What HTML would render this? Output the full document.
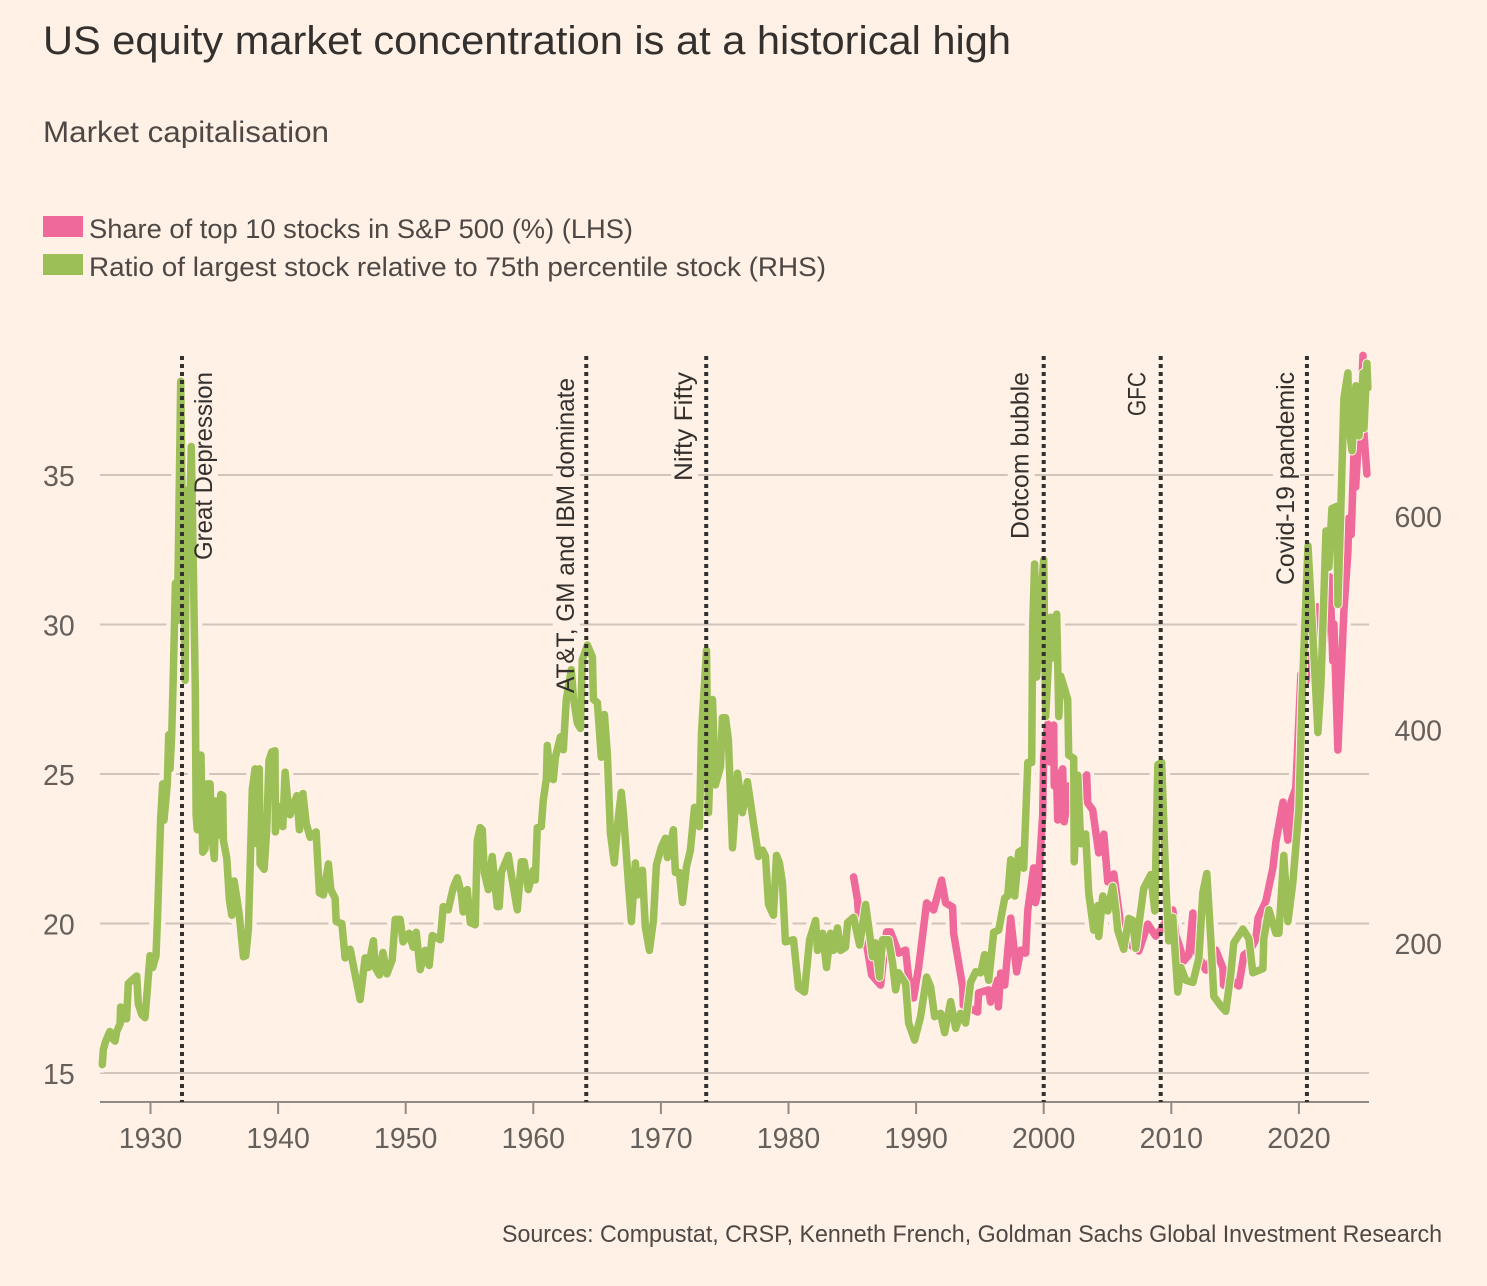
<!DOCTYPE html>
<html lang="en">
<head>
<meta charset="utf-8">
<title>US equity market concentration is at a historical high</title>
<style>
html,body{margin:0;padding:0;background:#fff1e5;}
body{width:1487px;height:1286px;overflow:hidden;}
svg{display:block;font-family:"Liberation Sans",sans-serif;}
</style>
</head>
<body>
<svg id="chart" xmlns="http://www.w3.org/2000/svg" width="1487" height="1286" viewBox="0 0 1487 1286">
  <rect x="0" y="0" width="1487" height="1286" fill="#fff1e5"/>
  <text x="43" y="54" font-size="40" fill="#33302e" textLength="968" lengthAdjust="spacingAndGlyphs">US equity market concentration is at a historical high</text>
  <text x="43" y="142" font-size="30" fill="#4d4845" textLength="286" lengthAdjust="spacingAndGlyphs">Market capitalisation</text>
  <rect x="43" y="216" width="40" height="21" fill="#ef6a9a"/>
  <text x="89" y="238" font-size="27" fill="#4d4845" textLength="544" lengthAdjust="spacingAndGlyphs">Share of top 10 stocks in S&amp;P 500 (%) (LHS)</text>
  <rect x="43" y="254" width="40" height="21" fill="#9dbf57"/>
  <text x="89" y="276" font-size="27" fill="#4d4845" textLength="737" lengthAdjust="spacingAndGlyphs">Ratio of largest stock relative to 75th percentile stock (RHS)</text>
  <g id="grid"></g>
  <g id="axes"></g>
  <g id="halo"></g>
  <g id="labelback"></g>
  <g id="series"></g>
  <g id="events"></g>
  <text x="502" y="1242" font-size="24" fill="#4d4845" textLength="940" lengthAdjust="spacingAndGlyphs">Sources: Compustat, CRSP, Kenneth French, Goldman Sachs Global Investment Research</text>
</svg>
<script>
const xTickYears = [1930,1940,1950,1960,1970,1980,1990,2000,2010,2020];
const leftTicks = [15,20,25,30,35];
const rightTicks = [200,400,600];
const eventYears = [1932.47,1964.15,1973.55,2000.0,2009.17,2020.63];
const eventLabels = ["Great Depression","AT&T, GM and IBM dominate","Nifty Fifty","Dotcom bubble","GFC","Covid-19 pandemic"];

const ratioYears = [1926.22,1926.30,1926.49,1926.82,1926.96,1927.22,1927.35,1927.61,1927.66,1927.87,1928.13,1928.26,1928.53,1928.92,1929.04,1929.31,1929.57,1929.75,1929.96,1930.17,1930.43,1930.56,1930.80,1930.96,1931.06,1931.32,1931.43,1931.53,1931.66,1931.79,1931.95,1932.10,1932.18,1932.37,1932.47,1932.71,1932.84,1933.02,1933.20,1933.36,1933.51,1933.57,1933.67,1933.75,1933.96,1934.09,1934.27,1934.45,1934.67,1934.80,1935.00,1935.11,1935.32,1935.51,1935.66,1935.71,1935.98,1936.18,1936.37,1936.55,1936.76,1936.96,1937.28,1937.47,1937.67,1937.86,1937.98,1938.20,1938.33,1938.53,1938.59,1938.90,1939.11,1939.29,1939.51,1939.76,1939.79,1940.02,1940.37,1940.55,1940.73,1940.94,1941.47,1941.67,1941.94,1942.20,1942.51,1942.98,1943.24,1943.55,1943.94,1944.13,1944.47,1944.55,1945.00,1945.25,1945.65,1946.04,1946.43,1946.82,1947.08,1947.47,1947.61,1947.94,1948.21,1948.53,1948.94,1949.18,1949.57,1949.80,1950.27,1950.59,1950.82,1951.14,1951.53,1951.84,1952.08,1952.71,1952.94,1953.33,1953.73,1954.04,1954.35,1954.51,1954.82,1955.06,1955.45,1955.61,1955.84,1956.00,1956.16,1956.47,1956.78,1957.18,1957.33,1957.49,1958.04,1958.35,1958.75,1959.06,1959.29,1959.61,1960.00,1960.16,1960.31,1960.63,1960.78,1961.02,1961.10,1961.33,1961.57,1961.73,1962.12,1962.35,1962.59,1962.98,1963.14,1963.45,1963.69,1963.84,1964.24,1964.63,1964.71,1965.02,1965.33,1965.57,1965.80,1966.04,1966.35,1966.67,1966.90,1967.06,1967.45,1967.69,1968.00,1968.16,1968.55,1968.78,1969.10,1969.41,1969.65,1970.04,1970.35,1970.51,1970.98,1971.14,1971.45,1971.69,1972.00,1972.31,1972.63,1973.02,1973.18,1973.57,1973.73,1974.04,1974.27,1974.67,1974.82,1975.06,1975.29,1975.61,1976.00,1976.39,1976.78,1977.25,1977.65,1977.96,1978.20,1978.43,1978.82,1979.06,1979.29,1979.53,1979.76,1980.39,1980.78,1981.25,1981.65,1982.12,1982.27,1982.67,1982.98,1983.29,1983.53,1983.84,1984.08,1984.47,1984.63,1985.10,1985.57,1986.04,1986.35,1986.59,1986.82,1987.14,1987.37,1987.84,1988.16,1988.39,1988.63,1989.18,1989.41,1989.88,1990.35,1990.82,1991.14,1991.45,1991.92,1992.23,1992.70,1993.10,1993.49,1993.88,1994.27,1994.67,1995.06,1995.37,1995.69,1996.08,1996.47,1996.94,1997.18,1997.41,1997.73,1998.04,1998.27,1998.43,1998.75,1999.06,1999.14,1999.29,1999.45,1999.76,2000.00,2000.16,2000.55,2000.71,2001.02,2001.18,2001.33,2001.57,2001.88,2001.96,2002.35,2002.39,2002.67,2002.90,2003.29,2003.53,2003.92,2004.24,2004.31,2004.63,2005.02,2005.41,2005.65,2005.80,2006.27,2006.67,2006.98,2007.21,2007.84,2008.39,2008.71,2008.94,2009.25,2009.57,2009.80,2010.12,2010.51,2010.75,2011.14,2011.69,2012.16,2012.47,2012.78,2013.10,2013.33,2013.88,2014.27,2014.67,2014.90,2015.61,2016.08,2016.39,2017.18,2017.25,2017.65,2018.20,2018.43,2018.82,2019.14,2019.53,2020.00,2020.24,2020.71,2021.18,2021.49,2021.73,2022.12,2022.35,2022.59,2022.98,2023.06,2023.29,2023.53,2023.84,2023.92,2024.16,2024.47,2024.71,2025.02,2025.10,2025.33,2025.41];
const ratioValues = [87,101,109,118,112,109,118,125,141,130,130,163,166,170,144,134,131,157,189,178,189,227,318,350,316,350,396,364,396,452,538,503,562,727,621,447,625,575,666,548,439,321,307,377,377,286,289,350,350,302,280,334,302,340,339,297,280,241,227,259,243,227,188,189,214,294,345,364,294,364,275,270,307,372,380,381,305,329,310,361,337,321,339,307,341,313,300,305,248,246,275,251,243,221,219,187,195,171,148,187,178,203,178,171,192,172,185,223,223,202,210,197,211,176,194,180,208,204,235,232,253,262,248,230,251,220,218,297,309,307,267,251,282,235,235,267,283,260,232,277,277,251,269,260,309,310,335,354,386,356,354,375,394,382,429,457,431,407,402,466,480,469,429,426,375,415,379,304,276,319,342,323,257,221,276,246,269,216,194,222,274,291,299,281,307,267,267,239,272,288,328,310,398,475,323,429,349,366,412,412,391,290,360,323,352,314,282,288,282,237,227,283,276,257,202,204,159,155,204,222,194,210,178,210,194,215,194,197,220,225,199,237,210,188,201,169,204,204,182,157,173,163,126,110,132,169,160,132,135,117,146,121,135,126,164,174,173,190,166,211,213,243,245,279,245,286,288,271,370,370,498,556,450,522,560,413,506,468,509,413,451,442,429,377,374,277,358,294,303,248,213,236,207,245,231,254,232,213,195,224,222,196,252,265,231,368,370,258,203,225,155,178,166,164,187,248,266,203,151,142,137,173,201,214,205,173,177,205,232,210,210,283,221,258,326,430,573,469,398,445,587,553,608,610,518,610,711,735,685,662,723,676,735,683,744,721];

const shareYears = [1985.10,1985.41,1985.49,1986.20,1986.51,1987.22,1987.69,1988.00,1988.63,1989.18,1989.41,1989.80,1990.20,1990.82,1991.37,1992.00,1992.31,1992.86,1992.94,1993.65,1993.70,1994.82,1994.90,1995.69,1995.84,1996.39,1996.45,1996.63,1996.94,1997.41,1997.88,1998.20,1998.59,1998.75,1999.22,1999.35,1999.53,1999.92,2000.00,2000.31,2000.50,2000.78,2000.82,2001.00,2001.10,2001.30,2001.49,2001.60,2001.73,2001.90,2002.35,2002.50,2003.14,2003.37,2003.45,2003.84,2004.31,2004.71,2005.02,2005.49,2006.04,2006.82,2007.45,2008.16,2008.78,2009.15,2010.12,2010.35,2010.59,2010.98,2011.38,2011.69,2011.90,2012.70,2013.49,2014.04,2014.10,2014.70,2015.29,2015.69,2016.20,2016.63,2016.80,2017.41,2017.96,2018.20,2018.75,2019.14,2019.38,2019.76,2020.16,2020.55,2021.49,2021.70,2022.10,2022.43,2022.66,2022.74,2023.06,2023.53,2023.84,2023.92,2024.10,2024.31,2024.45,2024.63,2024.88,2025.02,2025.10,2025.33];
const shareValues = [21.56,20.79,20.28,19.11,18.28,17.94,19.72,19.72,19.01,19.11,18.21,17.51,18.55,20.69,20.45,21.45,20.69,20.55,19.68,17.88,17.27,17.04,17.68,17.78,17.37,18.11,17.21,18.34,17.94,20.18,18.38,19.11,19.01,20.45,21.86,20.70,21.02,23.63,25.57,26.67,25.40,26.64,24.60,25.00,23.46,25.00,25.17,23.40,23.73,24.60,24.13,23.40,24.80,24.97,24.03,23.80,22.36,22.99,21.39,21.66,19.95,19.28,19.08,19.98,19.58,19.78,20.45,19.60,19.31,18.75,18.95,20.35,19.11,18.44,19.11,18.51,17.94,18.10,17.91,18.95,19.11,19.48,20.18,20.75,21.86,22.73,24.06,22.79,24.06,24.53,28.34,28.10,30.59,28.10,30.50,31.59,28.78,30.02,25.80,30.45,32.42,33.56,33.00,35.67,34.60,35.94,37.50,39.00,36.37,35.03];

const NS = "http://www.w3.org/2000/svg";
function xScale(year){ return 150.5 + (year - 1930) * 12.76; }
function yLeft(v){ return 1073 - (v - 15) * 29.9; }
function yRight(v){ return 944 - (v - 200) * 1.0675; }
function make(tag, parent, attrs){
  const el = document.createElementNS(NS, tag);
  for (const k in attrs) el.setAttribute(k, attrs[k]);
  parent.appendChild(el);
  return el;
}
function pathFrom(xs, ys, yFn){
  return xs.map((x, i) => (i ? "L" : "M") + xScale(x).toFixed(1) + " " + yFn(ys[i]).toFixed(1)).join(" ");
}
const gGrid = document.getElementById("grid");
const gAxes = document.getElementById("axes");
const gHalo = document.getElementById("halo");
const gBack = document.getElementById("labelback");
const gSeries = document.getElementById("series");
const gEvents = document.getElementById("events");
const PLOT_L = 100, PLOT_R = 1369, AXIS_Y = 1102;

leftTicks.forEach(t => {
  const line = make("line", gGrid, {x1: PLOT_L, x2: PLOT_R, y1: yLeft(t), y2: yLeft(t), stroke: "#cfc5ba", "stroke-width": 2});
  
  
  const label = make("text", gAxes, {x: 43, y: yLeft(t) + 11, "font-size": 28.5, fill: "#66605c"});
  
  
  label.textContent = t;
});
rightTicks.forEach(t => {
  const label = make("text", gAxes, {x: 1442, y: yRight(t) + 10, "font-size": 28.5, fill: "#66605c", "text-anchor": "end"});
  
  
  label.textContent = t;
});
const axisLine = make("line", gAxes, {x1: PLOT_L, x2: PLOT_R, y1: AXIS_Y, y2: AXIS_Y, stroke: "#8f8a85", "stroke-width": 2});


xTickYears.forEach(y => {
  const tick = make("line", gAxes, {x1: xScale(y), x2: xScale(y), y1: AXIS_Y, y2: AXIS_Y + 12, stroke: "#8f8a85", "stroke-width": 2});
  
  
  const label = make("text", gAxes, {x: xScale(y), y: 1148, "font-size": 28.5, fill: "#66605c", "text-anchor": "middle"});
  
  
  label.textContent = y;
});

const shareD = pathFrom(shareYears, shareValues, yLeft);
const ratioD = pathFrom(ratioYears, ratioValues, yRight);
const common = {fill: "none", "stroke-linejoin": "round", "stroke-linecap": "round"};
const haloShare = make("path", gHalo, Object.assign({d: shareD, stroke: "#fff1e5", "stroke-width": 15}, common));


const haloRatio = make("path", gHalo, Object.assign({d: ratioD, stroke: "#fff1e5", "stroke-width": 16}, common));


const shareLine = make("path", gSeries, Object.assign({d: shareD, stroke: "#ef6a9a", "stroke-width": 7.5}, common));


const ratioEdge = make("path", gSeries, Object.assign({d: ratioD, stroke: "#fff1e5", "stroke-width": 9.5}, common));


const ratioLine = make("path", gSeries, Object.assign({d: ratioD, stroke: "#9dbf57", "stroke-width": 7.5}, common));



const labelOffsets = [30, -12.5, -14, -15, -15, -13];
const labelStarts = [560, 693, 481, 539, 416, 585];
const labelLengths = [188, 315, 109, 167, 44, 213];
eventYears.forEach((y, i) => {
  const ex = xScale(y);
  const line = make("line", gEvents, {x1: ex, x2: ex, y1: 356, y2: AXIS_Y, stroke: "#33302e", "stroke-width": 4, "stroke-dasharray": "4 4"});
  
  
  const bx = ex + labelOffsets[i];
  const bg = make("rect", gBack, {x: bx - 21, y: labelStarts[i] - labelLengths[i], width: 27, height: labelLengths[i], fill: "#fff1e5"});
  
  
  const label = make("text", gEvents, {
    transform: "translate(" + bx + " " + labelStarts[i] + ") rotate(-90)",
    "font-size": 25, fill: "#33302e", textLength: labelLengths[i], lengthAdjust: "spacingAndGlyphs"
  });
  
  
  label.textContent = eventLabels[i];
});
</script>
</body>
</html>
